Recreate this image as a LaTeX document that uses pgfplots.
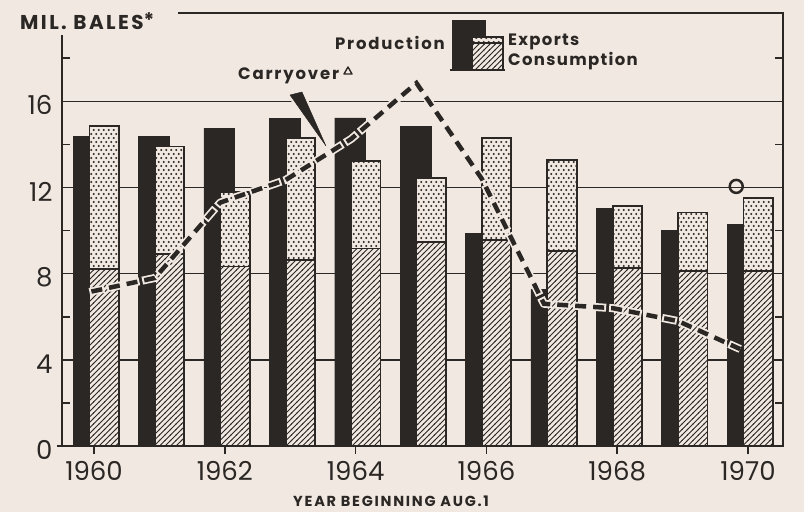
\documentclass[border=0pt]{standalone}
\usepackage{pgfplots}
\pgfplotsset{compat=1.18}
\usepackage{pgfplotstable}
\usepackage{fontspec}
\setmainfont{Poppins}
\usetikzlibrary{patterns}
\definecolor{paper}{HTML}{F1E9E1}
\definecolor{ink}{HTML}{2B2725}
\pgfdeclarepatternformonly{bigdots}{\pgfqpoint{-1pt}{-1pt}}{\pgfqpoint{6pt}{9pt}}{\pgfqpoint{5pt}{8pt}}{%
  \pgfpathcircle{\pgfqpoint{1.25pt}{2pt}}{1.1pt}\pgfusepath{fill}%
  \pgfpathcircle{\pgfqpoint{3.75pt}{6pt}}{1.1pt}\pgfusepath{fill}}
\pgfdeclarepatternformonly{hatch}{\pgfqpoint{-1pt}{-1pt}}{\pgfqpoint{6pt}{6pt}}{\pgfqpoint{5.5pt}{5.5pt}}{%
  \pgfsetlinewidth{1pt}\pgfpathmoveto{\pgfqpoint{-0.5pt}{-0.5pt}}\pgfpathlineto{\pgfqpoint{6pt}{6pt}}\pgfusepath{stroke}}
\pgfplotstableread{
year prod cons exp
1960 14.38 8.22 6.62
1961 14.38 8.90 5.00
1962 14.76 8.33 3.47
1963 15.20 8.63 5.67
1964 15.23 9.17 4.05
1965 14.84 9.48 2.96
1966 9.86 9.55 4.75
1967 7.27 9.06 4.20
1968 11.02 8.27 2.86
1969 10.02 8.12 2.72
1970 10.30 8.12 3.41
}\bars
\pgfplotstableread{
year carry
1959.93 7.15
1960.93 7.80
1961.93 11.30
1962.93 12.35
1963.93 14.25
1964.93 16.85
1965.93 12.40
1966.88 6.60
1967.93 6.40
1968.93 5.80
1969.88 4.50
}\carry
\begin{document}
\begin{tikzpicture}
\fill[paper, use as bounding box] (-62pt,-66pt) rectangle (742pt,446pt);
\begin{axis}[
  scale only axis, width=721pt, height=433pt,
  xmin=1959.51, xmax=1970.535, ymin=0, ymax=20.1,
  axis line style={draw=none},
  xtick={1960,1962,...,1970},
  xticklabels={1960,1962,1964,1966,1968,1970},
  ytick={0,4,...,16}, minor ytick={2,6,...,18},
  ymajorgrids, major grid style={ink, line width=1.5pt},
  xtick pos=bottom, xtick align=outside,
  ytick align=inside, ytick pos=both,
  major tick length=8pt, minor tick length=8pt,
  every tick/.style={ink, line width=1.6pt},
  every minor tick/.style={ink, line width=1.6pt},
  /pgf/number format/assume math mode=true,
  tick label style={font=\fontsize{26}{28}\selectfont, text=ink},
  xticklabel style={yshift=-4pt},
  yticklabel style={yshift=-4pt, xshift=-6pt},
  clip=false,
]
\addplot[ybar, bar width=0.47, bar shift=-0.085, fill=ink, draw=ink] table[x=year, y=prod] {\bars};
\addplot[ybar, bar width=0.45, bar shift=0.155, draw=ink, line width=1.8pt,
  preaction={fill=paper}, pattern=bigdots, pattern color=ink]
  table[x=year, y expr=\thisrow{cons}+\thisrow{exp}] {\bars};
\addplot[ybar, bar width=0.45, bar shift=0.155, draw=ink, line width=1.8pt,
  preaction={fill=paper}, pattern=hatch, pattern color=ink]
  table[x=year, y=cons] {\bars};
\addplot[paper, line width=8pt, dash pattern=on 15pt off 3pt, line join=round] table[x=year, y=carry] {\carry};
\addplot[ink, line width=4.5pt, dash pattern=on 11pt off 7pt, dash phase=16pt, line join=miter] table[x=year, y=carry] {\carry};
\addplot[only marks, mark=o, mark size=6.5pt, mark options={draw=ink, fill=paper, line width=2.5pt}] coordinates {(1969.82,12.05)};
\end{axis}
% axis frame
\draw[ink, line width=2pt] (0,411pt) -- (0,0) -- (721pt,0) -- (721pt,433pt) -- (116pt,433pt);
\draw[ink, line width=2pt] (-5pt,0) -- (0,0);
% texts
\node[anchor=base west, inner sep=0, text=ink, font=\bfseries\fontsize{20}{22}\selectfont\addfontfeature{LetterSpace=12}] at (-42pt,416pt) {MIL. BALES\raisebox{2pt}{*}};
\node[anchor=base east, inner sep=0, text=ink, font=\bfseries\fontsize{16.5}{18}\selectfont\addfontfeature{LetterSpace=11}] at (383pt,396pt) {Production};
\node[anchor=base west, inner sep=0, text=ink, font=\bfseries\fontsize{16.5}{18}\selectfont\addfontfeature{LetterSpace=8}] at (446pt,400pt) {Exports};
\node[anchor=base west, inner sep=0, text=ink, font=\bfseries\fontsize{16.5}{18}\selectfont\addfontfeature{LetterSpace=8}] at (446pt,380pt) {Consumption};
\node[anchor=base west, inner sep=0, text=ink, font=\bfseries\fontsize{16.5}{18}\selectfont\addfontfeature{LetterSpace=11}] at (176pt,366pt) {Carryover};
\draw[ink, line width=1.4pt, line join=round] (282pt,372pt) -- (290pt,372pt) -- (286pt,379pt) -- cycle;
\node[anchor=base west, inner sep=0, text=ink, font=\bfseries\fontsize{14.5}{16}\selectfont\addfontfeature{LetterSpace=12}] at (231pt,-60pt) {YEAR BEGINNING AUG.1};
% legend
\fill[ink] (390pt,376pt) rectangle (424pt,426pt);
\draw[ink, line width=1.6pt, preaction={fill=paper}, pattern=bigdots, pattern color=ink] (410pt,403pt) rectangle (441pt,409pt);
\draw[ink, line width=1.6pt, preaction={fill=paper}, pattern=hatch, pattern color=ink] (410pt,376pt) rectangle (441pt,403pt);
\draw[ink, line width=2pt] (388pt,376pt) -- (443pt,376pt);
% pointer wedge
\filldraw[ink, preaction={draw=paper, line width=5pt, line join=round}] (228pt,351pt) -- (240pt,354pt) -- (264pt,300pt) -- cycle;
\end{tikzpicture}
\end{document}
